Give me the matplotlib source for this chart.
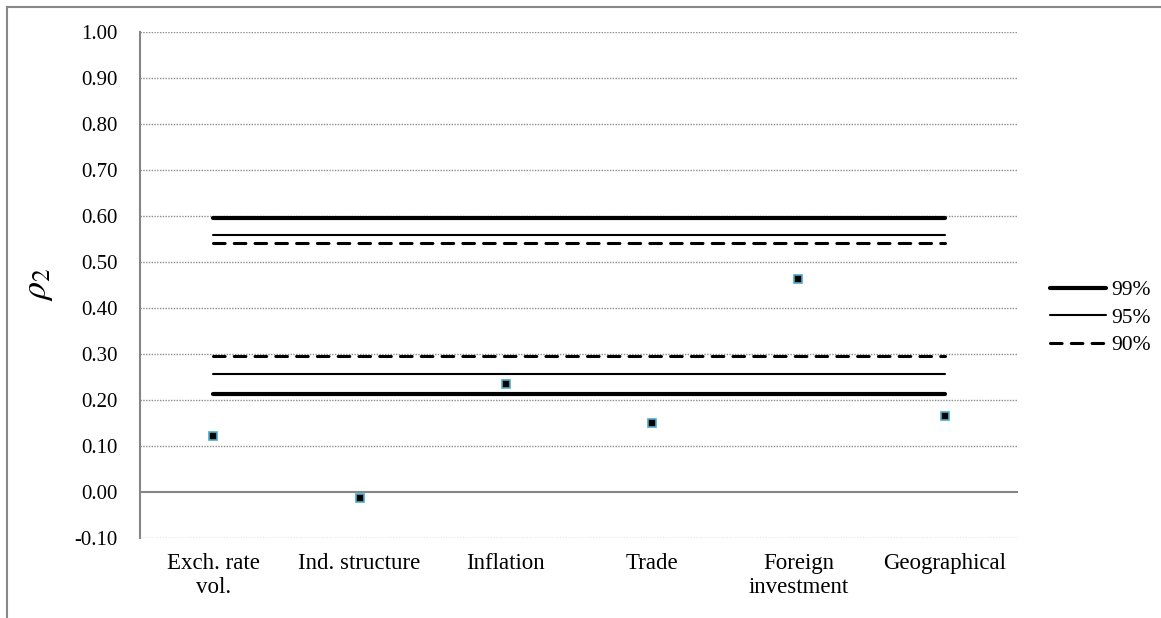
import numpy as np
import matplotlib.pyplot as plt
from matplotlib.lines import Line2D

plt.rcParams['font.family'] = ['Liberation Serif', 'DejaVu Serif']
plt.rcParams['mathtext.fontset'] = 'stix'

categories = ['Exch. rate\nvol.', 'Ind. structure', 'Inflation', 'Trade',
              'Foreign\ninvestment', 'Geographical']
rho2 = [0.121, -0.014, 0.234, 0.150, 0.462, 0.164]

# critical bounds (lower, upper) for each confidence level
levels = ['99%', '95%', '90%']
lower = [0.212, 0.256, 0.294]
upper = [0.596, 0.557, 0.541]

yticks = np.round(np.arange(-0.1, 1.0001, 0.1), 2)

fig = plt.figure(figsize=(11.61, 6.18), dpi=100)
ax = fig.add_axes([0.1206, 0.1299, 0.8768 - 0.1206, 0.9487 - 0.1299])

x = np.arange(len(categories))
n = len(categories)

styles = [dict(lw=3.0, ls='-'),
          dict(lw=1.5, ls='-'),
          dict(lw=2.2, ls=(0, (3.8, 3.0)))]

handles = []
for lab, lo, up, st in zip(levels, lower, upper, styles):
    for v in (lo, up):
        ax.plot(x, [v] * n, color='black', lw=st['lw'], ls=st['ls'],
                solid_capstyle='round', dash_capstyle='round', zorder=3)
    handles.append(Line2D([], [], color='black', lw=st['lw'], ls=st['ls'],
                          solid_capstyle='round', dash_capstyle='round', label=lab))

ax.plot(x, rho2, ls='none', marker='s', ms=6, mfc='black', mec='#4BACC6',
        mew=1.2, zorder=4)

ax.set_xlim(-0.5, n - 0.5)
ax.set_ylim(-0.1, 1.0)
ax.set_yticks(yticks)
ax.set_yticklabels(['%.2f' % t for t in yticks], fontsize=15)
ax.set_xticks(x)
ax.set_xticklabels(categories, fontsize=16.5, linespacing=1.2)
ax.tick_params(axis='both', length=0)
ax.tick_params(axis='y', pad=16)
ax.tick_params(axis='x', pad=11)

for t in yticks:
    if abs(t) < 1e-9:
        ax.axhline(0, color='#868686', lw=1.5, zorder=2)
    else:
        ax.axhline(t, color='#8c8c8c', lw=1.0, ls=(0, (1, 1)), zorder=1)

for s in ['top', 'right', 'bottom']:
    ax.spines[s].set_visible(False)
ax.spines['left'].set_color('#868686')
ax.spines['left'].set_linewidth(1.5)

ax.set_ylabel(r'$\rho_2$', fontsize=26, labelpad=14)

fig.legend(handles=handles, loc='center left', bbox_to_anchor=(0.888, 0.486),
           frameon=False, fontsize=15.5, handlelength=2.6, handletextpad=0.25,
           labelspacing=0.35)

# outer chart frame
fig.add_artist(Line2D([7 / 1161, 7 / 1161], [0, 1 - 7 / 618],
                      transform=fig.transFigure, color='#888888', lw=1.5))
fig.add_artist(Line2D([7 / 1161, 1], [1 - 7 / 618, 1 - 7 / 618],
                      transform=fig.transFigure, color='#888888', lw=1.5))

fig.savefig('out.png', dpi=100)
